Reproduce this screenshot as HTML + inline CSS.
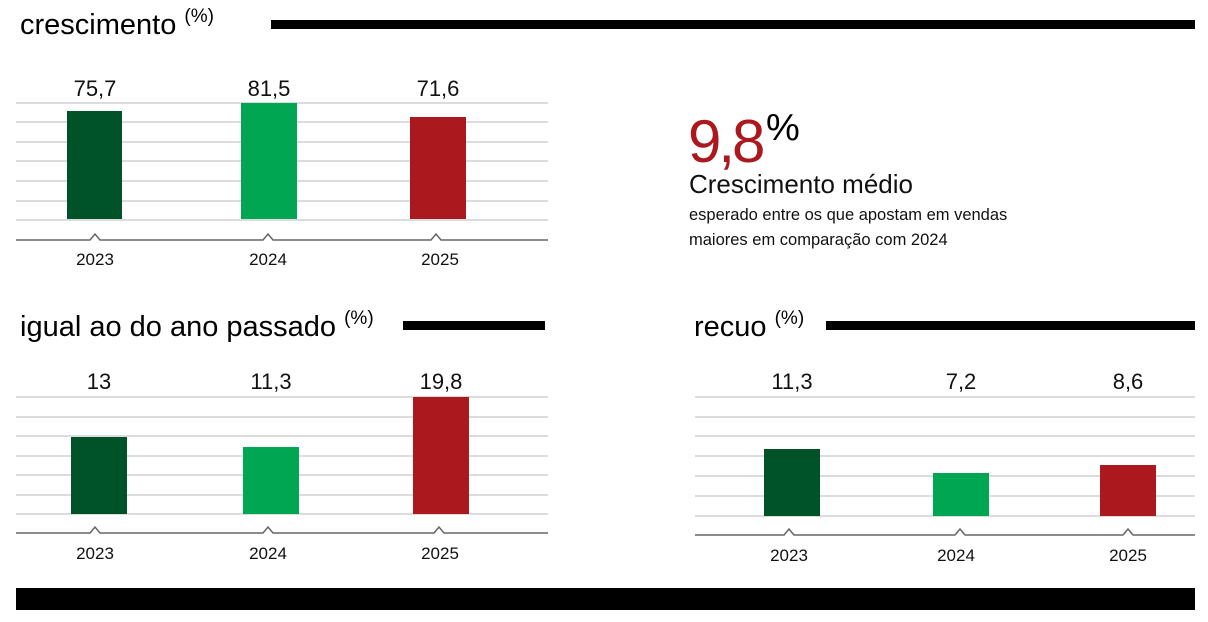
<!DOCTYPE html>
<html><head><meta charset="utf-8"><style>
body{margin:0;background:#fff;}
svg text{font-family:"Liberation Sans",sans-serif;}
</style></head><body>
<svg width="1208" height="617" xmlns="http://www.w3.org/2000/svg">
<g fill="#000">
<text x="20" y="34" font-size="29">crescimento <tspan font-size="19" dy="-12">(%)</tspan></text>
<rect x="271" y="20" width="924" height="9"/>
<text x="20" y="336" font-size="29">igual ao do ano passado <tspan font-size="19" dy="-12">(%)</tspan></text>
<rect x="403" y="321" width="142" height="9"/>
<text x="694" y="336" font-size="29">recuo <tspan font-size="19" dy="-12">(%)</tspan></text>
<rect x="826" y="321" width="369" height="9"/>
<rect x="16" y="588" width="1179" height="22"/>
</g>
<!-- grids -->
<g stroke="#c8c8c8" stroke-width="1.3">
<line x1="16" x2="548" y1="103" y2="103"/><line x1="16" x2="548" y1="122" y2="122"/><line x1="16" x2="548" y1="142" y2="142"/><line x1="16" x2="548" y1="161" y2="161"/><line x1="16" x2="548" y1="181" y2="181"/><line x1="16" x2="548" y1="201" y2="201"/><line x1="16" x2="548" y1="220" y2="220"/>
<line x1="16" x2="548" y1="397" y2="397"/><line x1="16" x2="548" y1="417" y2="417"/><line x1="16" x2="548" y1="436" y2="436"/><line x1="16" x2="548" y1="456" y2="456"/><line x1="16" x2="548" y1="475" y2="475"/><line x1="16" x2="548" y1="495" y2="495"/><line x1="16" x2="548" y1="514" y2="514"/>
<line x1="695" x2="1195" y1="397" y2="397"/><line x1="695" x2="1195" y1="417" y2="417"/><line x1="695" x2="1195" y1="436" y2="436"/><line x1="695" x2="1195" y1="456" y2="456"/><line x1="695" x2="1195" y1="476" y2="476"/><line x1="695" x2="1195" y1="496" y2="496"/><line x1="695" x2="1195" y1="516" y2="516"/>
</g>
<!-- axes with carets -->
<g stroke="#666" stroke-width="1.5" fill="none">
<polyline points="16,240 90,240 95,234 100,240 263,240 268,234 273,240 431,240 436,234 441,240 548,240"/>
<polyline points="16,533 90,533 95,527 100,533 263,533 268,527 273,533 434,533 439,527 444,533 548,533"/>
<polyline points="695,535 784,535 789,529 794,535 955,535 960,529 965,535 1123,535 1128,529 1133,535 1195,535"/>
</g>
<!-- bars -->
<rect x="67" y="111" width="55" height="108" fill="#005228"/>
<rect x="241" y="103" width="56" height="116" fill="#00a651"/>
<rect x="410" y="117" width="56" height="102" fill="#ab181e"/>
<rect x="71" y="437" width="56" height="77" fill="#005228"/>
<rect x="243" y="447" width="56" height="67" fill="#00a651"/>
<rect x="413" y="397" width="56" height="117" fill="#ab181e"/>
<rect x="764" y="449" width="56" height="67" fill="#005228"/>
<rect x="933" y="473" width="56" height="43" fill="#00a651"/>
<rect x="1100" y="465" width="56" height="51" fill="#ab181e"/>
<!-- labels -->
<g font-size="22" text-anchor="middle" fill="#111">
<text x="95" y="96">75,7</text><text x="269" y="96">81,5</text><text x="438" y="96">71,6</text>
<text x="99" y="389">13</text><text x="271" y="389">11,3</text><text x="441" y="389">19,8</text>
<text x="792" y="389">11,3</text><text x="961" y="389">7,2</text><text x="1128" y="389">8,6</text>
</g>
<g font-size="17" text-anchor="middle" fill="#111">
<text x="95" y="265">2023</text><text x="268" y="265">2024</text><text x="440" y="265">2025</text>
<text x="95" y="559">2023</text><text x="268" y="559">2024</text><text x="440" y="559">2025</text>
<text x="789" y="561">2023</text><text x="956" y="561">2024</text><text x="1128" y="561">2025</text>
</g>
<!-- callout -->
<text x="688" y="162" font-size="60" fill="#ab181e" letter-spacing="-3">9,8</text>
<text x="766" y="140" font-size="38" fill="#000">%</text>
<text x="689" y="193" font-size="26" fill="#111">Crescimento médio</text>
<text x="689" y="220" font-size="16.5" fill="#111">esperado entre os que apostam em vendas</text>
<text x="689" y="245" font-size="16.5" fill="#111">maiores em comparação com 2024</text>
</svg>
</body></html>
